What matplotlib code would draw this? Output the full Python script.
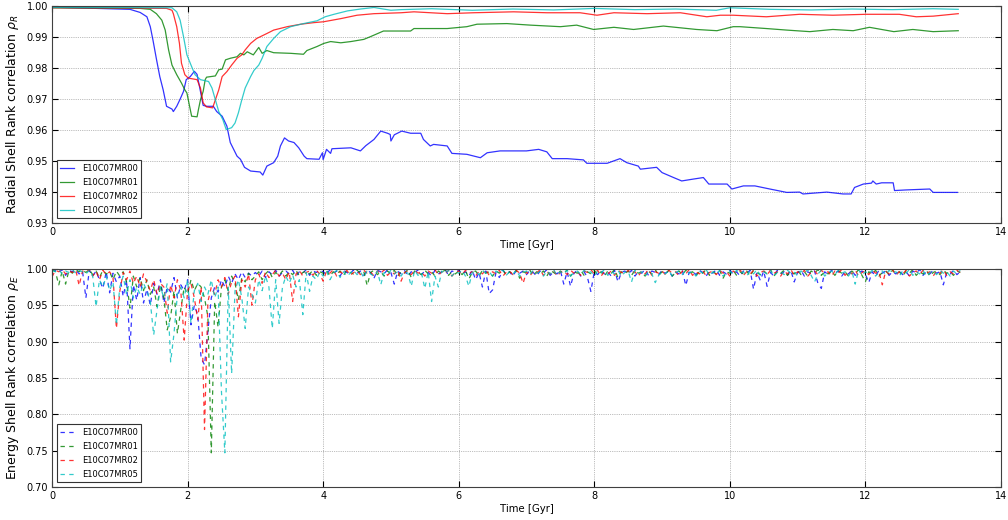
import numpy as np
import matplotlib
matplotlib.use('Agg')
import matplotlib.pyplot as plt

######################  RADIAL SHELL RANK CORRELATION  ######################

runs = ['E10C07MR00', 'E10C07MR01', 'E10C07MR02', 'E10C07MR05']
run_colors = ['b', 'g', 'r', 'c']

# rho_R breakpoints (time in Gyr, correlation)
t_r00 = [0.0, 1.15, 1.3, 1.4, 1.45, 1.49, 1.54, 1.59, 1.64, 1.69, 1.77, 1.79, 1.84, 1.89, 1.94,
         1.98, 2.04, 2.10, 2.14, 2.19, 2.23, 2.28, 2.38, 2.43, 2.51, 2.58, 2.63, 2.68, 2.73, 2.78,
         2.84, 2.93, 3.07, 3.11, 3.17, 3.27, 3.33, 3.37, 3.43, 3.49, 3.57, 3.64, 3.72, 3.76, 3.94,
         3.99, 4.0, 4.05, 4.11, 4.13, 4.41, 4.55, 4.63, 4.75, 4.85, 4.95, 4.99, 5.0, 5.05, 5.16,
         5.29, 5.44, 5.48, 5.58, 5.63, 5.83, 5.9, 6.12, 6.32, 6.42, 6.61, 6.81, 7.0, 7.18, 7.30,
         7.38, 7.6, 7.84, 7.89, 8.19, 8.38, 8.48, 8.65, 8.68, 8.92, 9.0, 9.17, 9.29, 9.46, 9.61,
         9.69, 9.96, 10.03, 10.2, 10.37, 10.59, 10.84, 11.03, 11.08, 11.43, 11.67, 11.79, 11.84, 11.97, 12.09,
         12.11, 12.16, 12.24, 12.41, 12.43, 12.6, 12.95, 13.0, 13.36]
rho_r00 = [0.9997, 0.999, 0.998, 0.9966, 0.9934, 0.989, 0.983, 0.9773, 0.973, 0.9677, 0.9668, 0.966, 0.9677, 0.970, 0.9725,
           0.9763, 0.9773, 0.979, 0.978, 0.9725, 0.968, 0.9677, 0.9677, 0.966, 0.9645, 0.9613, 0.956, 0.9538, 0.9516, 0.9506,
           0.948, 0.9468, 0.9465, 0.9455, 0.9484, 0.9495, 0.9516, 0.9549, 0.9575, 0.9565, 0.956, 0.9543, 0.9516, 0.9508, 0.9506,
           0.9527, 0.9505, 0.9538, 0.9525, 0.954, 0.9543, 0.9533, 0.955, 0.957, 0.9597, 0.959, 0.9586, 0.9565, 0.9585, 0.9597,
           0.959, 0.959, 0.957, 0.9549, 0.9554, 0.9549, 0.9525, 0.9522, 0.9511, 0.9527, 0.9533, 0.9533, 0.9533, 0.9538, 0.953,
           0.9508, 0.9508, 0.9504, 0.9493, 0.9493, 0.9508, 0.9495, 0.9484, 0.9474, 0.948, 0.9463, 0.9447, 0.9436, 0.9442, 0.9447,
           0.9426, 0.9426, 0.941, 0.942, 0.942, 0.941, 0.9399, 0.940, 0.9394, 0.940, 0.9394, 0.9394, 0.9415, 0.9426, 0.9429,
           0.9436, 0.9426, 0.943, 0.943, 0.9405, 0.9407, 0.941, 0.9399, 0.9399]

t_r01 = [0.0, 1.3, 1.45, 1.54, 1.62, 1.67, 1.72, 1.77, 1.84, 1.91, 1.96, 1.99, 2.03, 2.06, 2.14,
         2.16, 2.19, 2.23, 2.26, 2.28, 2.41, 2.46, 2.51, 2.56, 2.63, 2.73, 2.78, 2.83, 2.88, 2.97,
         3.05, 3.1, 3.17, 3.27, 3.52, 3.71, 3.76, 3.91, 4.01, 4.11, 4.26, 4.41, 4.6, 4.7, 4.89,
         5.29, 5.34, 5.83, 6.12, 6.27, 6.71, 7.06, 7.5, 7.74, 7.99, 8.29, 8.58, 9.02, 9.51, 9.81,
         10.05, 10.15, 10.54, 10.84, 11.18, 11.52, 11.82, 12.06, 12.42, 12.7, 13.0, 13.37]
rho_r01 = [0.9995, 0.9993, 0.999, 0.9976, 0.9955, 0.9923, 0.9859, 0.981, 0.9779, 0.9752, 0.973, 0.972, 0.9677, 0.9645, 0.9643,
           0.9666, 0.9698, 0.9725, 0.9763, 0.9771, 0.9775, 0.9795, 0.9797, 0.9827, 0.9832, 0.9837, 0.9848, 0.9843, 0.9853, 0.9843,
           0.9867, 0.9848, 0.9857, 0.985, 0.9848, 0.9845, 0.9857, 0.987, 0.988, 0.9886, 0.9882, 0.9886, 0.9893, 0.9902, 0.992,
           0.992, 0.9928, 0.9928, 0.9934, 0.9942, 0.9944, 0.9939, 0.9934, 0.9939, 0.9925, 0.9932, 0.9925, 0.9936, 0.9925, 0.9921,
           0.9934, 0.9934, 0.9928, 0.9923, 0.9918, 0.9925, 0.9921, 0.9932, 0.9918, 0.9925, 0.9918, 0.9921]

t_r02 = [0.0, 1.69, 1.77, 1.79, 1.84, 1.88, 1.91, 1.96, 2.01, 2.14, 2.19, 2.23, 2.28, 2.37, 2.41,
         2.46, 2.51, 2.58, 2.65, 2.73, 2.8, 2.85, 2.93, 3.02, 3.17, 3.27, 3.47, 3.67, 3.86, 4.01,
         4.26, 4.5, 4.75, 5.15, 5.34, 5.83, 6.22, 6.81, 7.3, 7.79, 8.04, 8.29, 8.78, 9.27, 9.66,
         9.86, 10.05, 10.54, 11.03, 11.52, 12.01, 12.5, 12.75, 13.0, 13.37]
rho_r02 = [0.9995, 0.9993, 0.9987, 0.9976, 0.9934, 0.988, 0.9816, 0.9779, 0.9768, 0.9763, 0.9736, 0.9688, 0.9675, 0.9672, 0.9698,
           0.973, 0.9773, 0.9789, 0.981, 0.9832, 0.9843, 0.9859, 0.988, 0.9896, 0.9912, 0.9923, 0.9934, 0.9942, 0.9947, 0.995,
           0.996, 0.9971, 0.9976, 0.9979, 0.9982, 0.9976, 0.9979, 0.9982, 0.9979, 0.9979, 0.9971, 0.9979, 0.9976, 0.9979, 0.9966,
           0.9971, 0.9971, 0.9966, 0.9974, 0.9971, 0.9974, 0.9974, 0.9966, 0.9968, 0.9976]

t_r05 = [0.0, 1.77, 1.84, 1.89, 1.94, 1.99, 2.06, 2.11, 2.19, 2.31, 2.36, 2.41, 2.46, 2.52, 2.57,
         2.65, 2.70, 2.75, 2.8, 2.85, 2.93, 2.98, 3.05, 3.1, 3.17, 3.27, 3.37, 3.52, 3.71, 3.91,
         4.03, 4.16, 4.36, 4.55, 4.75, 5.0, 5.15, 5.6, 6.2, 6.8, 7.4, 8.0, 8.6, 9.2, 9.8,
         10.0, 10.6, 11.2, 11.8, 12.4, 13.0, 13.37]
rho_r05 = [0.9996, 0.9995, 0.9982, 0.9955, 0.9902, 0.9843, 0.9805, 0.9779, 0.9763, 0.9757, 0.9736, 0.9698, 0.966, 0.9634, 0.9602,
           0.9608, 0.9623, 0.9656, 0.9698, 0.9736, 0.9773, 0.9793, 0.981, 0.9832, 0.987, 0.9896, 0.9918, 0.9934, 0.9944, 0.9953,
           0.9966, 0.9974, 0.9985, 0.9991, 0.9996, 0.9987, 0.9989, 0.9992, 0.9987, 0.9991, 0.9988, 0.9993, 0.9989, 0.9991, 0.9987,
           0.9995, 0.999, 0.9988, 0.9991, 0.9989, 0.9992, 0.999]

######################  ENERGY SHELL RANK CORRELATION  ######################

# rho_E snapshots every 0.05 Gyr from 0 to 13.4 Gyr
rho_e00 = [1.0, .998, .995, .999, .991, .998, .996, .999, .993, .997,
           .960, .998, .990, .997, .985, .973, .996, .967, .994, .982,
           .990, .962, .985, .890, .978, .957, .988, .953, .972, .950,
           .980, .965, .985, .953, .975, .968, .988, .960, .978, .970,
           .985, .923, .950, .937, .877, .868, .914, .960, .975, .968,
           .985, .975, .990, .980, .993, .985, .996, .988, .994, .990,
           .995, .990, .997, .988, .996, .992, .998, .990, .995, .997,
           .993, .998, .990, .996, .994, .999, .991, .997, .995, .998,
           .996, .992, .999, .994, .997, .990, .998, .995, .993, .999,
           .994, .997, .991, .998, .995, .987, .998, .996, .993, .999,
           .995, .979, .997, .993, .998, .990, .996, .994, .999, .992,
           .997, .995, .990, .998, .993, .996, .999, .991, .997, .995,
           .998, .993, .996, .990, .998, .985, .995, .975, .997, .966,
           .971, .995, .988, .998, .993, .996, .990, .998, .994, .997,
           .992, .998, .995, .990, .997, .994, .999, .991, .996, .993,
           .998, .979, .996, .976, .994, .998, .990, .996, .988, .969,
           .996, .992, .998, .993, .996, .990, .998, .982, .995, .997,
           .993, .998, .990, .996, .994, .999, .991, .997, .995, .992,
           .998, .994, .997, .990, .996, .993, .998, .977, .995, .997,
           .992, .998, .995, .990, .997, .994, .999, .991, .996, .993,
           .998, .993, .996, .990, .997, .994, .998, .972, .995, .984,
           .997, .976, .995, .990, .998, .993, .996, .991, .998, .982,
           .995, .998, .990, .996, .993, .997, .980, .973, .996, .992,
           .998, .994, .997, .990, .996, .993, .998, .991, .995, .997,
           .993, .981, .996, .990, .998, .994, .997, .991, .996, .993,
           .998, .992, .996, .990, .997, .994, .999, .991, .996, .993,
           .998, .994, .996, .978, .995, .993, .998, .992, .996]

rho_e01 = [.999, .996, .978, .997, .979, .998, .994, .999, .996, .998,
           .995, .999, .992, .997, .988, .998, .993, .996, .985, .997,
           .990, .996, .982, .946, .990, .975, .988, .970, .985, .965,
           .975, .948, .978, .960, .916, .934, .970, .911, .944, .975,
           .965, .985, .970, .980, .975, .960, .934, .747, .955, .920,
           .975, .985, .970, .990, .980, .957, .988, .982, .994, .985,
           .990, .996, .985, .993, .998, .988, .995, .991, .997, .990,
           .996, .992, .998, .990, .995, .997, .993, .998, .991, .996,
           .994, .998, .990, .996, .993, .997, .991, .998, .995, .993,
           .998, .994, .996, .977, .995, .998, .992, .996, .990, .997,
           .993, .998, .990, .996, .994, .999, .988, .997, .995, .992,
           .998, .993, .996, .990, .997, .994, .999, .991, .996, .993,
           .997, .992, .998, .986, .995, .997, .990, .998, .994, .996,
           .990, .997, .994, .999, .991, .996, .993, .998, .987, .996,
           .994, .998, .991, .996, .993, .997, .990, .998, .995, .992,
           .997, .993, .999, .990, .996, .994, .998, .991, .996, .993,
           .998, .992, .996, .990, .997, .994, .999, .988, .996, .993,
           .997, .991, .998, .994, .996, .990, .997, .993, .999, .991,
           .996, .993, .998, .990, .995, .997, .992, .998, .994, .996,
           .990, .997, .994, .999, .991, .996, .993, .998, .987, .996,
           .994, .998, .991, .996, .993, .997, .990, .998, .995, .992,
           .997, .993, .999, .990, .996, .994, .998, .991, .996, .993,
           .998, .992, .996, .990, .997, .994, .999, .991, .996, .993,
           .997, .991, .998, .994, .996, .990, .997, .993, .999, .991,
           .982, .996, .993, .998, .990, .995, .997, .992, .998, .994,
           .996, .990, .997, .994, .999, .991, .996, .993, .998, .990,
           .995, .997, .992, .998, .994, .996, .991, .997, .995]

rho_e02 = [.989, .998, .996, .999, .993, .997, .995, .999, .977, .997,
           .995, .999, .990, .997, .985, .998, .992, .996, .988, .918,
           .969, .995, .985, .997, .980, .990, .975, .993, .982, .970,
           .985, .965, .980, .975, .939, .978, .960, .985, .970, .902,
           .970, .980, .960, .930, .975, .779, .955, .975, .965, .985,
           .975, .988, .965, .982, .990, .934, .985, .975, .993, .950,
           .985, .993, .980, .996, .988, .992, .998, .990, .994, .985,
           .996, .955, .993, .998, .990, .995, .997, .991, .998, .993,
           .983, .997, .994, .999, .990, .996, .993, .998, .991, .995,
           .997, .992, .998, .994, .996, .990, .997, .993, .999, .991,
           .996, .993, .998, .983, .995, .997, .992, .998, .994, .996,
           .990, .997, .994, .999, .991, .996, .993, .998, .990, .995,
           .997, .992, .998, .994, .996, .990, .997, .993, .999, .991,
           .996, .993, .998, .990, .995, .997, .992, .998, .994, .980,
           .996, .990, .997, .994, .999, .991, .996, .993, .998, .990,
           .995, .997, .992, .998, .994, .996, .991, .997, .995, .999,
           .993, .998, .990, .996, .993, .997, .991, .998, .995, .993,
           .998, .994, .996, .990, .997, .993, .999, .991, .996, .994,
           .997, .992, .998, .994, .996, .990, .997, .993, .999, .991,
           .996, .993, .998, .990, .995, .997, .992, .998, .994, .996,
           .990, .997, .994, .999, .991, .996, .993, .998, .990, .995,
           .997, .992, .998, .994, .996, .990, .997, .993, .999, .991,
           .996, .993, .998, .990, .995, .997, .992, .998, .994, .996,
           .990, .997, .994, .999, .991, .996, .993, .998, .990, .995,
           .997, .992, .998, .994, .996, .978, .997, .993, .999, .991,
           .996, .993, .998, .990, .995, .997, .992, .998, .994, .996,
           .990, .997, .994, .999, .991, .996, .993, .998, .995]

rho_e05 = [.998, .996, .999, .993, .997, .995, .999, .994, .998, .996,
           .993, .998, .990, .948, .985, .975, .990, .970, .982, .923,
           .975, .990, .965, .985, .960, .975, .965, .980, .970, .955,
           .909, .944, .975, .960, .980, .872, .911, .965, .975, .960,
           .985, .925, .970, .980, .955, .975, .965, .985, .960, .975,
           .831, .747, .975, .856, .970, .985, .960, .918, .975, .965,
           .953, .985, .970, .990, .975, .918, .985, .925, .975, .990,
           .980, .992, .975, .985, .937, .995, .969, .990, .985, .996,
           .990, .997, .985, .993, .998, .988, .996, .990, .994, .998,
           .992, .996, .988, .998, .993, .990, .997, .978, .995, .992,
           .998, .993, .996, .990, .997, .994, .976, .998, .991, .995,
           .973, .996, .955, .990, .975, .997, .993, .998, .990, .996,
           .994, .998, .990, .976, .995, .997, .992, .998, .994, .996,
           .990, .997, .994, .999, .991, .996, .993, .998, .990, .995,
           .997, .992, .998, .994, .996, .990, .997, .993, .999, .991,
           .996, .993, .998, .990, .995, .997, .992, .998, .994, .996,
           .990, .997, .994, .999, .991, .996, .993, .998, .990, .995,
           .997, .982, .998, .994, .996, .990, .997, .993, .981, .991,
           .996, .993, .998, .990, .995, .997, .992, .998, .994, .996,
           .990, .997, .994, .999, .991, .996, .993, .998, .990, .995,
           .997, .992, .998, .994, .996, .990, .997, .993, .999, .991,
           .996, .993, .998, .990, .995, .997, .992, .998, .994, .996,
           .990, .997, .994, .999, .991, .982, .993, .998, .990, .995,
           .997, .992, .998, .994, .996, .990, .997, .979, .999, .991,
           .996, .993, .998, .990, .995, .997, .992, .998, .994, .996,
           .990, .997, .994, .999, .991, .996, .993, .998, .990, .995,
           .997, .992, .998, .994, .996, .990, .997, .993, .998]

#################### plotting ####################

fig = plt.figure(figsize=(10.08, 5.2), dpi=100)
ax1 = fig.add_axes([0.0516, 0.571, 0.9414, 0.417])
ax2 = fig.add_axes([0.0516, 0.0635, 0.9414, 0.4195])

radial = [(t_r00, rho_r00), (t_r01, rho_r01), (t_r02, rho_r02), (t_r05, rho_r05)]
for (t, rho), name, col in zip(radial, runs, run_colors):
    ax1.plot(t, rho, color=col, lw=0.9, alpha=0.8, label=name)

energy = [rho_e00, rho_e01, rho_e02, rho_e05]
for rho, name, col in zip(energy, runs, run_colors):
    t = np.linspace(0, 13.4, len(rho))
    ax2.plot(t, rho, color=col, lw=0.9, alpha=0.8, ls='--', dashes=(3.5, 3.5), label=name)

ax1.set_ylim(0.93, 1.0)
ax1.set_yticks(np.arange(0.93, 1.001, 0.01))
ax1.set_ylabel(r'Radial Shell Rank correlation $\rho_R$', fontsize=9)
ax2.set_ylim(0.70, 1.0)
ax2.set_yticks(np.arange(0.70, 1.001, 0.05))
ax2.set_ylabel(r'Energy Shell Rank correlation $\rho_E$', fontsize=9)

for ax in (ax1, ax2):
    ax.set_xlim(0, 14)
    ax.set_xticks(range(0, 15, 2))
    ax.set_xlabel('Time [Gyr]', fontsize=7.3, labelpad=2)
    ax.tick_params(labelsize=7, direction='in', top=True, right=True, length=4, pad=3)
    ax.grid(True, color='k', ls=':', lw=0.5, alpha=0.5)
    for s in ax.spines.values():
        s.set_color('0.25')
    leg = ax.legend(loc='lower left', fontsize=6, fancybox=False, framealpha=1,
                    edgecolor='0.2', borderaxespad=0.6, handlelength=1.6,
                    handletextpad=1.0, labelspacing=0.6)
    leg.get_frame().set_linewidth(0.8)

fig.savefig('out.png', dpi=100)
